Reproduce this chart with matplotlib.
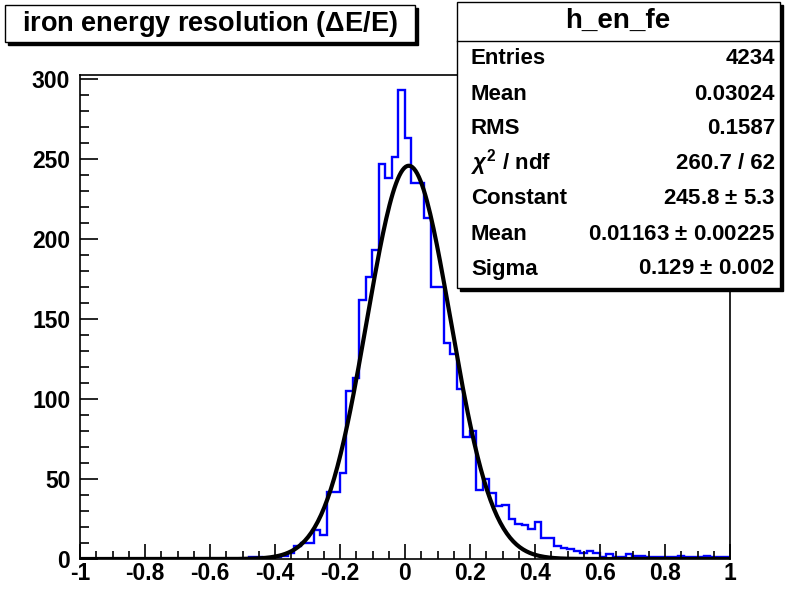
import numpy as np
import matplotlib.pyplot as plt
from matplotlib.patches import Rectangle

# histogram h_en_fe : 100 bins from -1 to 1 (counts)
edges = np.linspace(-1, 1, 101)
counts = np.zeros(100)
# bins starting at -0.48 ... 0.98
counts[26:] = [1, 1, 0, 0, 1, 2, 4, 8, 10, 10,
               18, 15, 42, 42, 54, 105, 113, 162, 176, 193,
               247, 238, 251, 293, 263, 235, 235, 213, 170, 170,
               135, 128, 106, 76, 80, 43, 50, 41, 33, 34,
               25, 22, 21, 19, 23, 13, 13, 8, 7, 6,
               5, 4, 5, 4, 1, 3, 1, 1, 3, 2,
               2, 1, 1, 1, 1, 1, 2, 1, 1, 1,
               2, 1, 1, 1]

# gaussian fit results from the stats box
g_const, g_mean, g_sigma = 245.8, 0.01163, 0.129

stats_labels = ["Entries", "Mean", "RMS", r"$\chi^2$ / ndf", "Constant", "Mean", "Sigma"]
stats_values = ["4234", "0.03024", "0.1587", "260.7 / 62",
                r"245.8 $\pm$ 5.3", r"0.01163 $\pm$ 0.00225", r"0.129 $\pm$ 0.002"]

W, H = 794, 589
plt.rcParams['font.family'] = ['Liberation Sans', 'DejaVu Sans']
plt.rcParams['font.weight'] = 'bold'
plt.rcParams['mathtext.fontset'] = 'custom'
plt.rcParams['mathtext.rm'] = 'Liberation Sans:bold'
plt.rcParams['mathtext.it'] = 'Liberation Sans:italic:bold'

fig = plt.figure(figsize=(W / 100, H / 100), dpi=100)

def fx(x):
  return x / W

def fy(y):
  return 1 - y / H

ax = fig.add_axes([fx(80), fy(559), fx(730) - fx(80), fy(75) - fy(559)])
ax.stairs(counts, edges, color=(0, 0, 1), lw=1.7)
xs = np.linspace(-1, 1, 400)
ax.plot(xs, g_const * np.exp(-0.5 * ((xs - g_mean) / g_sigma) ** 2), color='black', lw=3)
ax.set_xlim(-1, 1)
ax.set_ylim(0, 302.5)
ax.set_xticks(np.arange(-1, 1.01, 0.2))
ax.set_xticklabels(['-1', '-0.8', '-0.6', '-0.4', '-0.2', '0', '0.2', '0.4', '0.6', '0.8', '1'])
ax.set_xticks(np.arange(-1, 1.01, 0.05), minor=True)
ax.set_yticks(np.arange(0, 301, 50))
ax.set_yticks(np.arange(0, 301, 10), minor=True)
ax.tick_params(axis='x', which='major', direction='in', length=11, width=1.2, labelsize=16.5, pad=2)
ax.tick_params(axis='x', which='minor', direction='in', length=5.5, width=1.2)
ax.tick_params(axis='y', which='major', direction='in', length=13, width=1.2, labelsize=16.5, pad=7)
ax.tick_params(axis='y', which='minor', direction='in', length=6.5, width=1.2)
for s in ax.spines.values():
  s.set_linewidth(1.2)

# title box with shadow
fig.add_artist(Rectangle((fx(8), fy(45)), fx(418) - fx(8), fy(5) - fy(42),
                         transform=fig.transFigure, facecolor='black', edgecolor='black', zorder=10))
fig.add_artist(Rectangle((fx(5), fy(42)), fx(415) - fx(5), fy(5) - fy(42),
                         transform=fig.transFigure, facecolor='white', edgecolor='black', lw=1, zorder=11))
fig.text(fx(210), fy(24), r"iron energy resolution ($\Delta$E/E)", ha='center', va='center',
         fontsize=19.5, fontweight='bold', zorder=12)

# stats box with shadow
fig.add_artist(Rectangle((fx(460), fy(291)), fx(783) - fx(460), fy(5) - fy(291),
                         transform=fig.transFigure, facecolor='black', edgecolor='black', zorder=10))
fig.add_artist(Rectangle((fx(457), fy(288)), fx(780) - fx(457), fy(2) - fy(288),
                         transform=fig.transFigure, facecolor='white', edgecolor='black', lw=1, zorder=11))
fig.add_artist(plt.Line2D([fx(457), fx(780)], [fy(41), fy(41)], transform=fig.transFigure,
                          color='black', lw=1, zorder=12))
fig.text(fx(618), fy(21), "h_en_fe", ha='center', va='center', fontsize=20, fontweight='bold', zorder=12)
row_y = [58, 95, 128, 163, 198, 234, 269]
for lab, val, y in zip(stats_labels, stats_values, row_y):
  fig.text(fx(471), fy(y), lab, ha='left', va='center', fontsize=16, fontweight='bold', zorder=12)
  fig.text(fx(775), fy(y), val, ha='right', va='center', fontsize=16, fontweight='bold', zorder=12)

fig.savefig('out.png', dpi=100)
